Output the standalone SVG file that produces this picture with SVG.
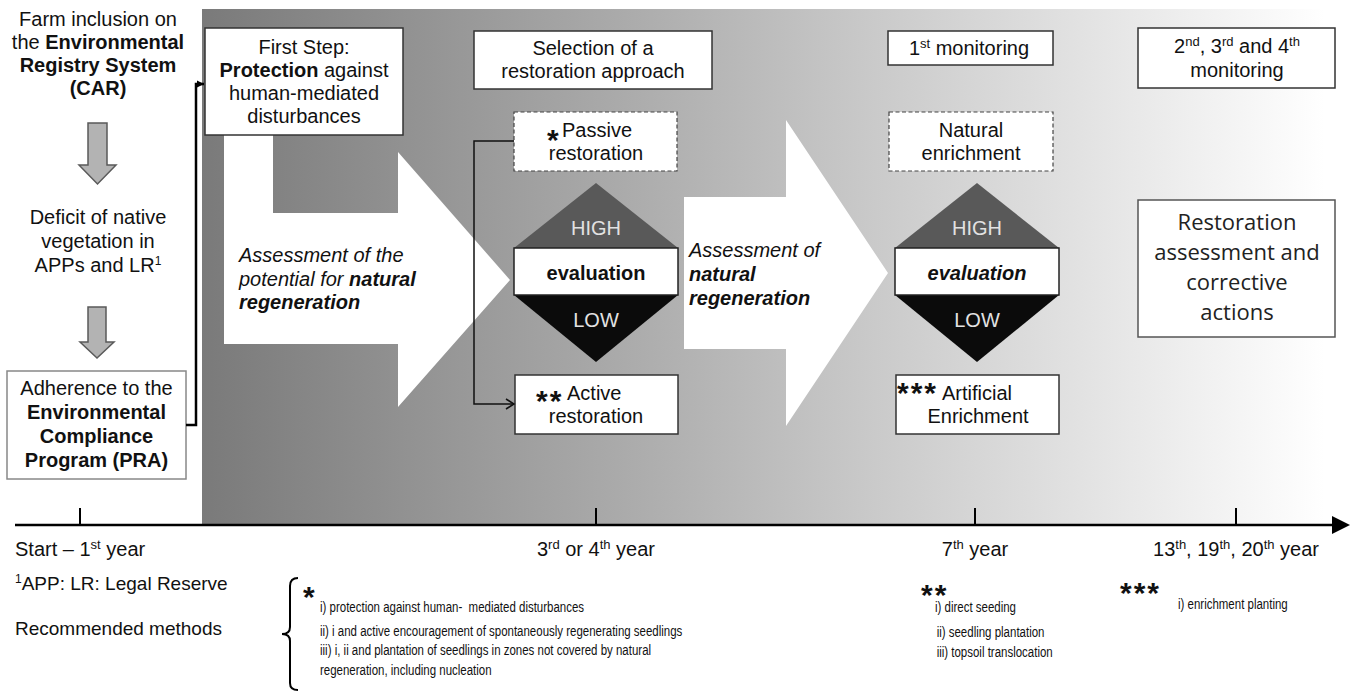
<svg xmlns="http://www.w3.org/2000/svg" width="1354" height="692" viewBox="0 0 1354 692">
<defs>
<linearGradient id="bg" gradientUnits="userSpaceOnUse" x1="202" y1="0" x2="1325" y2="0">
<stop offset="0" stop-color="#7a7a7a"/>
<stop offset="0.4" stop-color="#aeaeae"/>
<stop offset="0.6" stop-color="#cacaca"/>
<stop offset="0.85" stop-color="#ebebeb"/>
<stop offset="1" stop-color="#ffffff"/>
</linearGradient>
<marker id="tri" markerUnits="userSpaceOnUse" markerWidth="8" markerHeight="8" refX="7" refY="4" orient="auto">
<path d="M0,0.5 L7,4 L0,7.5 Z" fill="#000"/>
</marker>
<marker id="open" markerUnits="userSpaceOnUse" markerWidth="12" markerHeight="12" refX="10" refY="6" orient="auto">
<path d="M2,1 L10,6 L2,11" fill="none" stroke="#111" stroke-width="1.5"/>
</marker>
<style>
.t{font-family:"Liberation Sans",Arial,sans-serif;font-size:20px;fill:#111}
.c{text-anchor:middle}
.b{font-weight:bold}
.i{font-style:italic}
.s{font-size:19px}
.w{fill:#e2e2e2}
.lg{font-size:14px}
.st{font-size:30px;font-weight:bold;letter-spacing:2px}
.star{font-family:"Liberation Sans",Arial,sans-serif;font-weight:bold;font-size:30px;letter-spacing:2px;fill:#111}
.cal{font-family:"Open Sans",sans-serif;font-size:22px;fill:#222;text-anchor:middle}
.box{fill:#fff;stroke:#333;stroke-width:1.5}
.dash{fill:#fff;stroke:#444;stroke-width:1.2;stroke-dasharray:4 2.5}
.gar{fill:#b3b3b3;stroke:#5a5a5a;stroke-width:1.5}
</style>
</defs>

<!-- background panel -->
<rect x="202" y="9" width="1152" height="516" fill="url(#bg)"/>

<!-- big white arrows -->
<path d="M224,130 H273 V213 H398 V152 L510,280 L398,407 V344 H224 Z" fill="#fff"/>
<path d="M684,197 H786 V120 L888,273 L786,426 V349 H684 Z" fill="#fff"/>

<g id="n-car">
<text class="t c" x="98" y="26">Farm inclusion on</text>
<text class="t c" x="98" y="49">the <tspan class="b">Environmental</tspan></text>
<text class="t c b" x="98" y="72">Registry System</text>
<text class="t c b" x="98" y="95">(CAR)</text>
</g>

<g id="a-down1"><polygon class="gar" points="88,123 107,123 107,165 116,165 97.5,184 79,165 88,165"/></g>

<g id="n-deficit">
<text class="t c" x="98" y="224">Deficit of native</text>
<text class="t c" x="98" y="248">vegetation in</text>
<text class="t c" x="98" y="272">APPs and LR<tspan dy="-7" font-size="12">1</tspan></text>
</g>

<g id="a-down2"><polygon class="gar" points="88,307 106,307 106,342 114,342 97,358 80,342 88,342"/></g>

<g id="n-pra">
<rect x="7" y="371" width="179" height="108" fill="#fff" stroke="#888" stroke-width="1.5"/>
<text class="t c" x="96.5" y="395">Adherence to the</text>
<text class="t c b" x="96.5" y="419">Environmental</text>
<text class="t c b" x="96.5" y="443">Compliance</text>
<text class="t c b" x="96.5" y="467">Program (PRA)</text>
</g>

<g id="n-first">
<rect class="box" x="205" y="28" width="198" height="107" stroke="#444"/>
<text class="t c" x="304" y="54">First Step:</text>
<text class="t c" x="304" y="77"><tspan class="b">Protection</tspan> against</text>
<text class="t c" x="304" y="100">human-mediated</text>
<text class="t c" x="304" y="123">disturbances</text>
</g>

<g id="n-assess1">
<text class="t i" x="239" y="262">Assessment of the</text>
<text class="t i" x="239" y="286">potential for <tspan class="b">natural</tspan></text>
<text class="t i b" x="239" y="309">regeneration</text>
</g>

<g id="n-selection">
<rect class="box" x="474" y="31" width="238" height="58"/>
<text class="t c" x="593" y="55">Selection of a</text>
<text class="t c" x="593" y="78">restoration approach</text>
</g>

<g id="n-passive">
<rect class="dash" x="514" y="112" width="163" height="59"/>
<text class="t" x="547" y="137"><tspan class="st" dy="13">*</tspan><tspan x="562" dy="-13">Passive</tspan></text>
<text class="t c" x="596" y="160">restoration</text>
</g>

<g id="n-eval1">
<polygon points="514,248 596,183 678,248" fill="#595959"/>
<polygon points="514,295 678,295 596,362" fill="#0b0b0b"/>
<rect x="514" y="248" width="164" height="47" fill="#fff" stroke="#222" stroke-width="1.5"/>
<text class="t c w" x="596" y="235">HIGH</text>
<text class="t c b" x="596" y="280">evaluation</text>
<text class="t c w" x="596" y="327">LOW</text>
</g>

<g id="n-active">
<rect class="box" x="515" y="375" width="163" height="59"/>
<text class="t" x="536" y="400"><tspan class="st" dy="11">**</tspan><tspan x="567" dy="-11">Active</tspan></text>
<text class="t c" x="596" y="423">restoration</text>
</g>

<g id="n-assess2">
<text class="t i" x="689" y="257">Assessment of</text>
<text class="t i b" x="689" y="281">natural</text>
<text class="t i b" x="689" y="305">regeneration</text>
</g>

<g id="n-mon1">
<rect class="box" x="888" y="31" width="165" height="34"/>
<text class="t c" x="969" y="55">1<tspan dy="-7" font-size="13">st</tspan><tspan dy="7"> monitoring</tspan></text>
</g>

<g id="n-natural">
<rect class="dash" x="889" y="112" width="164" height="59"/>
<text class="t c" x="971" y="137">Natural</text>
<text class="t c" x="971" y="160">enrichment</text>
</g>

<g id="n-eval2">
<polygon points="895,248 977,183 1059,248" fill="#595959"/>
<polygon points="895,295 1059,295 977,362" fill="#0b0b0b"/>
<rect x="895" y="248" width="164" height="47" fill="#fff" stroke="#222" stroke-width="1.5"/>
<text class="t c w" x="977" y="235">HIGH</text>
<text class="t c b i" x="977" y="280">evaluation</text>
<text class="t c w" x="977" y="327">LOW</text>
</g>

<g id="n-artificial">
<rect class="box" x="896" y="375" width="163" height="59"/>
<text class="t" x="897" y="400"><tspan class="st" dy="3">***</tspan><tspan x="942" dy="-3">Artificial</tspan></text>
<text class="t c" x="978" y="423">Enrichment</text>
</g>

<g id="n-mon234">
<rect class="box" x="1138" y="28" width="197" height="60"/>
<text class="t c" x="1237" y="53">2<tspan dy="-7" font-size="13">nd</tspan><tspan dy="7">, 3</tspan><tspan dy="-7" font-size="13">rd</tspan><tspan dy="7"> and 4</tspan><tspan dy="-7" font-size="13">th</tspan></text>
<text class="t c" x="1237" y="77">monitoring</text>
</g>

<g id="n-restoration">
<rect x="1138" y="200" width="197" height="137" fill="#fff" stroke="#555" stroke-width="1.5"/>
<text class="cal" x="1237" y="230">Restoration</text>
<text class="cal" x="1237" y="260">assessment and</text>
<text class="cal" x="1237" y="290">corrective</text>
<text class="cal" x="1237" y="320">actions</text>
</g>

<g id="connectors">
<path d="M186,425 H196 V84 H204" fill="none" stroke="#000" stroke-width="2.5" marker-end="url(#tri)"/>
<path d="M514,141 H474 V404 H514" fill="none" stroke="#111" stroke-width="1.5" marker-end="url(#open)"/>
</g>

<g id="timeline">
<line x1="15" y1="525" x2="1334" y2="525" stroke="#000" stroke-width="2.5"/>
<polygon points="1332,516 1350,525 1332,534" fill="#000"/>
<line x1="80" y1="508" x2="80" y2="525" stroke="#000" stroke-width="2"/>
<line x1="596" y1="508" x2="596" y2="525" stroke="#000" stroke-width="2"/>
<line x1="975" y1="508" x2="975" y2="525" stroke="#000" stroke-width="2"/>
<line x1="1236" y1="508" x2="1236" y2="525" stroke="#000" stroke-width="2"/>
<text class="t" x="15" y="556">Start – 1<tspan dy="-7" font-size="13">st</tspan><tspan dy="7"> year</tspan></text>
<text class="t c" x="596" y="556">3<tspan dy="-7" font-size="13">rd</tspan><tspan dy="7"> or 4</tspan><tspan dy="-7" font-size="13">th</tspan><tspan dy="7"> year</tspan></text>
<text class="t c" x="975" y="556">7<tspan dy="-7" font-size="13">th</tspan><tspan dy="7"> year</tspan></text>
<text class="t c" x="1236" y="556">13<tspan dy="-7" font-size="13">th</tspan><tspan dy="7">, 19</tspan><tspan dy="-7" font-size="13">th</tspan><tspan dy="7">, 20</tspan><tspan dy="-7" font-size="13">th</tspan><tspan dy="7"> year</tspan></text>
</g>

<g id="legend">
<text class="t s" x="15" y="590"><tspan dy="-7" font-size="12">1</tspan><tspan dy="7">APP: LR: Legal Reserve</tspan></text>
<text class="t s" x="15" y="635">Recommended methods</text>
<path d="M298,578 Q290,578 290,586 V627 Q290,634 282,634 Q290,634 290,641 V683 Q290,690 298,690" fill="none" stroke="#000" stroke-width="2"/>
<text class="star" x="303" y="607">*</text>
<g transform="translate(320,0) scale(0.82,1)">
<text class="t lg" x="0" y="612" xml:space="preserve">i) protection against human-  mediated disturbances</text>
<text class="t lg" x="0" y="636">ii) i and active encouragement of spontaneously regenerating seedlings</text>
<text class="t lg" x="0" y="655">iii) i, ii and plantation of seedlings in zones not covered by natural</text>
<text class="t lg" x="0" y="675">regeneration, including nucleation</text>
</g>
<text class="star" x="921" y="605">**</text>
<g transform="translate(935,0) scale(0.82,1)">
<text class="t lg" x="0" y="612">i) direct seeding</text>
<text class="t lg" x="2" y="637">ii) seedling plantation</text>
<text class="t lg" x="2" y="657">iii) topsoil translocation</text>
</g>
<text class="star" x="1120" y="603">***</text>
<g transform="translate(1178,0) scale(0.82,1)">
<text class="t lg" x="0" y="609">i) enrichment planting</text>
</g>
</g>
</svg>
